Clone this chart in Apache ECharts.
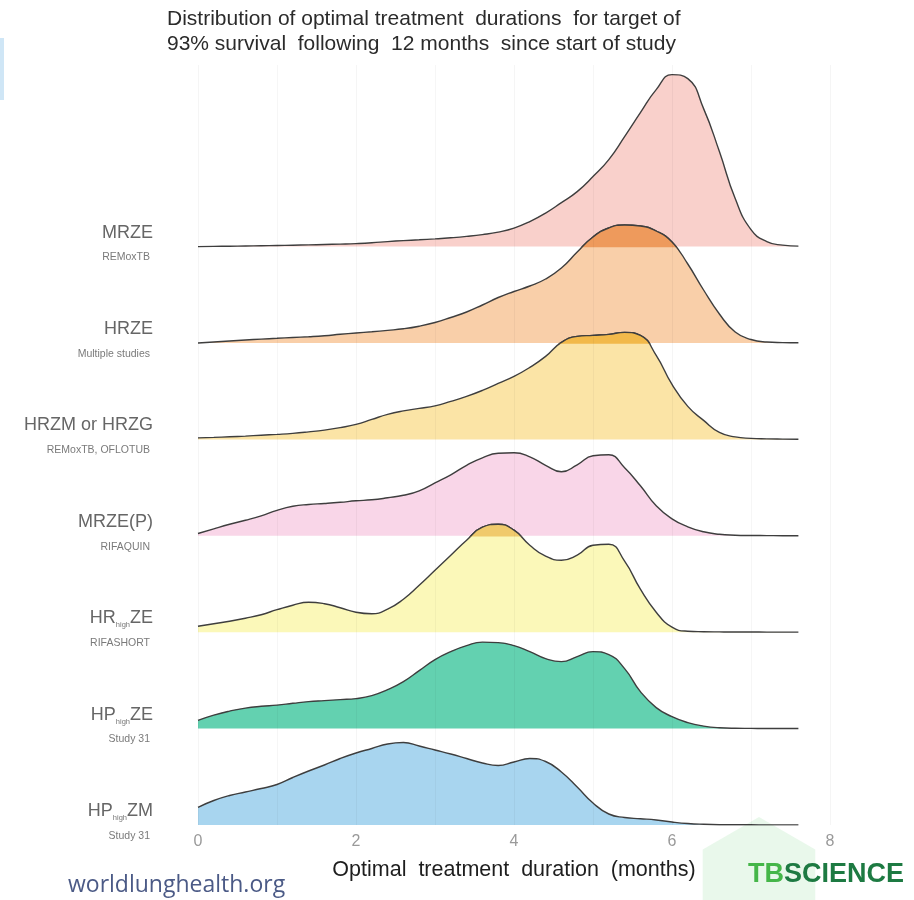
<!DOCTYPE html>
<html>
<head>
<meta charset="utf-8">
<script src="https://cdn.jsdelivr.net/npm/echarts@6/dist/echarts.min.js"></script>
<style>
  html, body { margin: 0; padding: 0; background: #ffffff; }
  #chart { width: 914px; height: 900px; }
</style>
</head>
<body>
<div id="chart"></div>
<script>
// Months at which each density curve is sampled
const months = [0, 0.2, 0.4, 0.6, 0.8, 1.0, 1.2, 1.4, 1.6, 1.8, 2.0, 2.2, 2.4, 2.6, 2.8, 3.0, 3.2, 3.4, 3.6, 3.8,
                4.0, 4.2, 4.4, 4.6, 4.8, 5.0, 5.2, 5.4, 5.6, 5.8, 6.0, 6.2, 6.4, 6.6, 6.8, 7.0, 7.2, 7.4, 7.6];

// Regimens, top to bottom ("|" marks the subscripted part)
const regimens = ['MRZE', 'HRZE', 'HRZM or HRZG', 'MRZE(P)', 'HR|high|ZE', 'HP|high|ZE', 'HP|high|ZM'];
const studies  = ['REMoxTB', 'Multiple studies', 'REMoxTB, OFLOTUB', 'RIFAQUIN', 'RIFASHORT', 'Study 31', 'Study 31'];

// Relative density of optimal duration (scaled), one value per month sample
const densMRZE = [0, 0.2, 0.4, 0.6, 0.8, 1.1, 1.4, 1.7, 2.1, 2.5, 3.0, 3.8, 5.0, 6.0, 6.8, 7.7, 8.8, 10.2, 12.0, 14.5,
                  18.5, 25, 33.5, 44, 55, 70, 87, 110, 134, 157, 172, 168, 138, 95, 48, 17, 5, 1.5, 0.5];
const densHRZE = [0, 1.0, 2.0, 3.0, 3.9, 4.7, 5.5, 6.3, 7.3, 8.7, 10.0, 11.2, 12.6, 14.2, 16.8, 20.5, 25.5, 31, 38, 45.5,
                  51.5, 57, 64, 75, 91, 106, 115, 118, 117, 112, 101, 79, 53, 29, 11, 3.5, 1.0, 0.4, 0.2];
const densHRZM = [1.5, 2.0, 2.6, 3.3, 4.2, 5.0, 6.0, 7.5, 9.3, 11.8, 15, 20, 25, 28.5, 31, 33.5, 38, 43, 49, 56,
                  63, 72, 83, 97, 103, 104, 105, 107, 104, 84, 55, 33, 19, 7, 2.5, 1, 0.5, 0.3, 0.2];
const densMRZEP = [2.3, 7, 11.5, 15.5, 20, 25.5, 29.5, 31.3, 32.3, 33.5, 35, 36, 38, 40.5, 45, 53, 61, 70.5, 78, 82.5,
                   83, 79, 70.5, 64, 71, 80, 81, 68, 50, 30, 17, 9, 4, 1.5, 0.6, 0.3, 0.2, 0.1, 0.1];
const densHRhighZE = [6, 8.5, 11, 14, 17.5, 22.5, 27, 30, 28.5, 24.5, 20, 18.5, 23, 33, 47, 62, 77, 92, 105, 108,
                      102, 87, 76, 72, 77, 87, 88, 71, 43, 20, 5, 1, 0.5, 0.3, 0.2, 0.2, 0.1, 0.1, 0.1];
const densHPhighZE = [8.3, 13.5, 17.5, 20.5, 22.3, 23.5, 25.3, 27, 28, 29, 30, 33, 39, 47, 58, 69, 77, 83, 86.5, 86,
                      83, 77, 70, 67, 72, 77, 74, 60, 37, 21, 12, 6, 2.5, 0.8, 0.3, 0.2, 0.1, 0.1, 0.1];
const densHPhighZM = [17.7, 24.5, 29.5, 33, 36.5, 40.5, 47.5, 54, 60, 66.5, 72, 76.5, 81, 82.5, 79, 75, 71, 66.5, 62, 59.5,
                      63, 66.5, 63.5, 53, 38, 22, 11, 7.5, 6.3, 5, 3, 1.5, 0.7, 0.3, 0.2, 0.2, 0.1, 0.1, 0.1];

// Axis tick labels
const xTicks = [0, 2, 4, 6, 8];

const densities = [densMRZE, densHRZE, densHRZM, densMRZEP, densHRhighZE, densHPhighZE, densHPhighZM];

// Styling
const fillColors = ['#f9d0cb', '#f9cfa9', '#fbe4a6', '#f9d6e8', '#fbf8b9', '#63d1b0', '#a8d5ef'];
const overlapColors = ['#f2a8a0', '#ee9a5c', '#f2b94a', '#eeb3d2', '#f0ca6c', '#3fbf98', '#7fc0e6'];
const outline = '#3e3e3e';
const FONT = 'Liberation Sans, Arial, sans-serif';

const RIDGE_GAP = 96.4;     // vertical spacing between ridge baselines (axis units = px)
const PLOT_LEFT = 198, PLOT_W = 632, PLOT_TOP = 65, PLOT_H = 760;
const Y_MAX = PLOT_H;
const n = regimens.length;
const baseOf = i => (n - 1 - i) * RIDGE_GAP;

const chart = echarts.init(document.getElementById('chart'), null, { renderer: 'canvas' });

const grids = [{ left: PLOT_LEFT, width: PLOT_W, top: PLOT_TOP, height: PLOT_H }];
const xAxes = [{
  type: 'value', gridIndex: 0, min: 0, max: 8, interval: 2, z: 20,
  axisLine: { show: false }, axisTick: { show: false },
  axisLabel: {
    color: '#9a9a9a', fontSize: 16, margin: 9, fontFamily: FONT,
    formatter: v => xTicks.includes(v) ? String(v) : ''
  },
  splitLine: { show: true, lineStyle: { color: 'rgba(0,0,0,0.04)', width: 1 } },
  minorTick: { show: false, splitNumber: 2 },
  minorSplitLine: { show: true, lineStyle: { color: 'rgba(0,0,0,0.035)', width: 1 } },
  name: 'Optimal  treatment  duration  (months)', nameLocation: 'middle', nameGap: 34,
  nameTextStyle: { color: '#1e1e1e', fontSize: 21.5, fontFamily: FONT }
}];
const yAxes = [{
  type: 'value', gridIndex: 0, min: 0, max: Y_MAX, interval: RIDGE_GAP,
  axisLine: { show: false }, axisTick: { show: false }, splitLine: { show: false },
  axisLabel: {
    showMaxLabel: false, margin: 45, align: 'right',
    formatter: function (v) {
      const i = n - 1 - Math.round(v / RIDGE_GAP);
      if (i < 0 || i >= n) return '';
      const parts = regimens[i].split('|');
      let name = '{n|' + parts[0] + '}';
      if (parts.length === 3) name += '{sub|' + parts[1] + '}{n|' + parts[2] + '}';
      return name + '\n{s|' + studies[i] + '}';
    },
    padding: [0, 0, 0, 0],
    rich: {
      n: { fontSize: 18, color: '#666666', lineHeight: 22, fontFamily: FONT },
      sub: { fontSize: 7.5, color: '#777777', lineHeight: 22, verticalAlign: 'bottom', padding: [8, 0, 0, 0],
             fontFamily: FONT },
      s: { fontSize: 10.5, color: '#7a7a7a', lineHeight: 28, padding: [0, 3, 0, 0], fontFamily: FONT }
    }
  }
}];

const series = [];
function addRidge(i, gi, fill, z) {
  const base = baseOf(i);
  series.push({
    type: 'line', xAxisIndex: gi, yAxisIndex: gi, name: regimens[i].replace(/\|/g, ''),
    data: months.map((m, k) => [m, base + densities[i][k]]),
    smooth: 0.5, showSymbol: false, symbol: 'none', clip: true, silent: true,
    lineStyle: { color: outline, width: 1.4 },
    areaStyle: { color: fill, opacity: 1, origin: base },
    z: z
  });
}

densities.forEach((d, i) => {
  addRidge(i, 0, fillColors[i], 2 + i * 2);
  if (i > 0) {
    // same ridge, clipped to the band above the previous baseline, shows where it overlaps
    const lower = baseOf(i - 1);
    const gi = grids.length;
    grids.push({ left: PLOT_LEFT, width: PLOT_W, top: PLOT_TOP, height: PLOT_H - lower });
    xAxes.push({ type: 'value', gridIndex: gi, min: 0, max: 8, show: false });
    yAxes.push({ type: 'value', gridIndex: gi, min: lower, max: Y_MAX, show: false });
    addRidge(i, gi, overlapColors[i], 3 + i * 2);
  }
});

// hexagon behind the logo
const hexR = 65, hexC = [759, 882];
const hexPts = [0, 1, 2, 3, 4, 5].map(k => {
  const a = -Math.PI / 2 + k * Math.PI / 3;
  return [hexC[0] + hexR * Math.cos(a), hexC[1] + hexR * Math.sin(a)];
});

chart.setOption({
  animation: false,
  backgroundColor: '#ffffff',
  title: {
    text: 'Distribution of optimal treatment  durations  for target of\n93% survival  following  12 months  since start of study',
    left: 162, top: 2,
    textStyle: { fontSize: 21, fontWeight: 'normal', color: '#2b2b2b', lineHeight: 25, fontFamily: FONT }
  },
  grid: grids,
  xAxis: xAxes,
  yAxis: yAxes,
  series: series,
  graphic: [
    { type: 'polygon', shape: { points: hexPts }, style: { fill: 'rgba(200,238,205,0.4)' }, z: 0, silent: true },
    { type: 'rect', shape: { x: 0, y: 38, width: 4, height: 62 }, style: { fill: '#cfe6f6' }, z: 0, silent: true },
    {
      type: 'text', left: 68, top: 874, z: 50,
      style: { text: 'worldlunghealth.org', fill: '#4b5a86', fontSize: 23,
               fontFamily: 'Open Sans, Lato, sans-serif' }
    },
    {
      type: 'text', left: 748, top: 861, z: 50,
      style: {
        text: '{a|TB}{b|SCIENCE}',
        rich: {
          a: { fill: '#45b649', fontSize: 27, fontWeight: 'bold', fontFamily: FONT },
          b: { fill: '#1d7a42', fontSize: 27, fontWeight: 'bold', fontFamily: FONT }
        }
      }
    }
  ]
});
</script>
</body>
</html>
